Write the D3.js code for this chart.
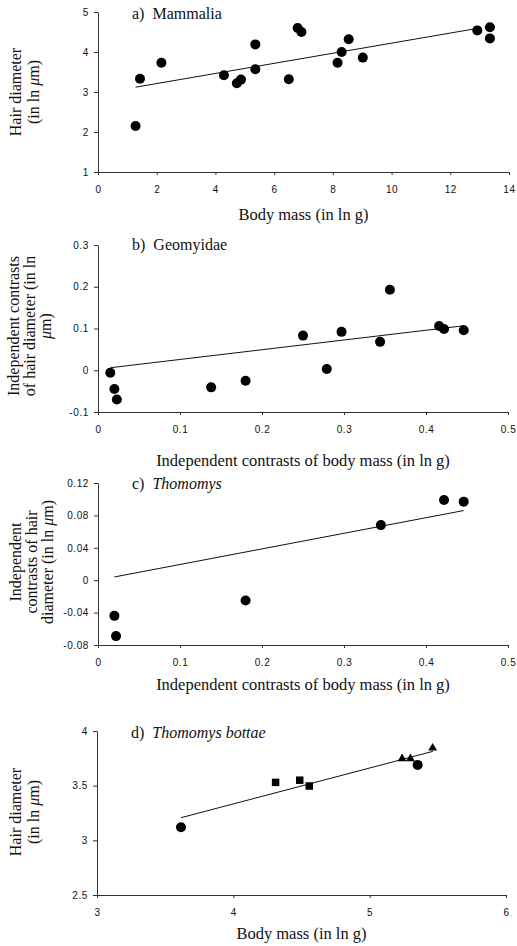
<!DOCTYPE html>
<html>
<head>
<meta charset="utf-8">
<script src="https://cdn.jsdelivr.net/npm/d3@7"></script>
<style>
  body { margin: 0; background: #fff; }
  svg text { font-family: "Liberation Serif", "Times New Roman", serif; fill: #111; white-space: pre; }
  .tick text { font-family: "Liberation Sans", Arial, sans-serif; font-size: 10px; letter-spacing: 0.6px; }
  .domain, .tick line { stroke: #333; }
</style>
</head>
<body>
<svg id="chart" width="517" height="946"></svg>
<script>
// a) Mammalia
var mammaliaMass = [1.28, 1.43, 2.16, 4.29, 4.73, 4.87, 5.36, 5.36, 6.5, 6.8, 6.93, 8.16, 8.3, 8.54, 9.02, 12.92, 13.35, 13.35];
var mammaliaHair = [2.15, 3.33, 3.73, 3.42, 3.22, 3.31, 3.57, 4.19, 3.32, 4.6, 4.5, 3.73, 4.0, 4.32, 3.86, 4.54, 4.62, 4.34];
var mammaliaFitX = [1.28, 12.92];
var mammaliaFitY = [3.12, 4.59];

// b) Geomyidae
var geoMass = [0.015, 0.02, 0.023, 0.138, 0.18, 0.25, 0.279, 0.297, 0.344, 0.356, 0.416, 0.422, 0.446];
var geoHair = [-0.006, -0.045, -0.07, -0.041, -0.025, 0.083, 0.003, 0.092, 0.068, 0.193, 0.106, 0.099, 0.096];
var geoFitX = [0.015, 0.448];
var geoFitY = [0.006, 0.107];

// c) Thomomys
var thoMass = [0.02, 0.022, 0.18, 0.345, 0.422, 0.446];
var thoHair = [-0.044, -0.069, -0.025, 0.068, 0.099, 0.097];
var thoFitX = [0.02, 0.446];
var thoFitY = [0.004, 0.086];

// d) Thomomys bottae (three marker groups)
var botCircleMass = [3.616, 5.352];
var botCircleHair = [3.12, 3.69];
var botSquareMass = [4.31, 4.487, 4.557];
var botSquareHair = [3.53, 3.55, 3.497];
var botTriMass = [5.238, 5.299, 5.462];
var botTriHair = [3.747, 3.747, 3.844];
var botFitX = [3.616, 5.464];
var botFitY = [3.207, 3.814];

// tick values + labels
var ticksXa = [0, 2, 4, 6, 8, 10, 12, 14];
var ticksYa = [1, 2, 3, 4, 5];
var ticksXb = [0, 0.1, 0.2, 0.3, 0.4, 0.5];
var labelsXb = ["0", "0.1", "0.2", "0.3", "0.4", "0.5"];
var ticksYb = [-0.1, 0, 0.1, 0.2, 0.3];
var labelsYb = ["-0.1", "0", "0.1", "0.2", "0.3"];
var ticksYc = [-0.08, -0.04, 0, 0.04, 0.08, 0.12];
var labelsYc = ["-0.08", "-0.04", "0", "0.04", "0.08", "0.12"];
var ticksXd = [3, 4, 5, 6];
var ticksYd = [2.5, 3, 3.5, 4];
var labelsYd = ["2.5", "3", "3.5", "4"];

var svg = d3.select("#chart");

function zip(a, b) { return a.map(function(v, i) { return [v, b[i]]; }); }

var panels = [
  {
    left: 98, right: 509, top: 12, bottom: 172,
    xd: [0, 14], yd: [1, 5],
    xt: ticksXa, xl: ticksXa.map(String), yt: ticksYa, yl: ticksYa.map(String),
    title: [["a)  Mammalia", false]], titleY: 19,
    xlabel: "Body mass (in ln g)", xlabelY: 220,
    ylabel: [[["Hair diameter", false]], [["(in ln ", false], ["\u03bc", true], ["m)", false]]],
    ylabelX: [15, 33], ylabelY: 92,
    circles: zip(mammaliaMass, mammaliaHair),
    fit: zip(mammaliaFitX, mammaliaFitY)
  },
  {
    left: 98, right: 508, top: 245, bottom: 412,
    xd: [0, 0.5], yd: [-0.1, 0.3],
    xt: ticksXb, xl: labelsXb, yt: ticksYb, yl: labelsYb,
    title: [["b)  Geomyidae", false]], titleY: 250,
    xlabel: "Independent contrasts of body mass (in ln g)", xlabelY: 466,
    ylabel: [[["Independent contrasts", false]], [["of hair diameter (in ln", false]], [["\u03bc", true], ["m)", false]]],
    ylabelX: [13, 29, 45], ylabelY: 326,
    circles: zip(geoMass, geoHair),
    fit: zip(geoFitX, geoFitY)
  },
  {
    left: 98, right: 508, top: 483, bottom: 645,
    xd: [0, 0.5], yd: [-0.08, 0.12],
    xt: ticksXb, xl: labelsXb, yt: ticksYc, yl: labelsYc,
    title: [["c)  ", false], ["Thomomys", true]], titleY: 489,
    xlabel: "Independent contrasts of body mass (in ln g)", xlabelY: 690,
    ylabel: [[["Independent", false]], [["contrasts of hair", false]], [["diameter (in ln ", false], ["\u03bc", true], ["m)", false]]],
    ylabelX: [15, 31, 47], ylabelY: 562,
    circles: zip(thoMass, thoHair),
    fit: zip(thoFitX, thoFitY)
  },
  {
    left: 97, right: 506, top: 731, bottom: 895,
    xd: [3, 6], yd: [2.5, 4],
    xt: ticksXd, xl: ticksXd.map(String), yt: ticksYd, yl: labelsYd,
    title: [["d)  ", false], ["Thomomys bottae", true]], titleY: 738,
    xlabel: "Body mass (in ln g)", xlabelY: 939,
    ylabel: [[["Hair diameter", false]], [["(in ln ", false], ["\u03bc", true], ["m)", false]]],
    ylabelX: [15, 33], ylabelY: 812,
    circles: zip(botCircleMass, botCircleHair),
    squares: zip(botSquareMass, botSquareHair),
    triangles: zip(botTriMass, botTriHair),
    fit: zip(botFitX, botFitY)
  }
];

function addSpans(sel, parts) {
  parts.forEach(function(p) {
    sel.append("tspan").text(p[0]).style("font-style", p[1] ? "italic" : null);
  });
}

panels.forEach(function(p) {
  var x = d3.scaleLinear().domain(p.xd).range([p.left, p.right]);
  var y = d3.scaleLinear().domain(p.yd).range([p.bottom, p.top]);
  var g = svg.append("g");

  g.append("g")
    .attr("transform", "translate(0," + p.bottom + ")")
    .call(d3.axisBottom(x).tickValues(p.xt).tickSizeInner(3).tickSizeOuter(0).tickPadding(11)
      .tickFormat(function(d, i) { return p.xl[i]; }));

  g.append("g")
    .attr("transform", "translate(" + p.left + ",0)")
    .call(d3.axisLeft(y).tickValues(p.yt).tickSizeInner(4).tickSizeOuter(0).tickPadding(5)
      .tickFormat(function(d, i) { return p.yl[i]; }));

  // fitted line
  g.append("path")
    .datum(p.fit)
    .attr("fill", "none")
    .attr("stroke", "#111")
    .attr("stroke-width", 1)
    .attr("d", d3.line().x(function(d) { return x(d[0]); }).y(function(d) { return y(d[1]); }));

  g.selectAll("circle.pt")
    .data(p.circles)
    .enter().append("circle")
    .attr("class", "pt")
    .attr("cx", function(d) { return x(d[0]); })
    .attr("cy", function(d) { return y(d[1]); })
    .attr("r", 5)
    .attr("fill", "#000");

  if (p.squares) {
    g.selectAll("path.sq")
      .data(p.squares)
      .enter().append("path")
      .attr("class", "sq")
      .attr("transform", function(d) { return "translate(" + x(d[0]) + "," + y(d[1]) + ")"; })
      .attr("d", d3.symbol().type(d3.symbolSquare).size(56))
      .attr("fill", "#000");
  }
  if (p.triangles) {
    g.selectAll("path.tri")
      .data(p.triangles)
      .enter().append("path")
      .attr("class", "tri")
      .attr("transform", function(d) { return "translate(" + x(d[0]) + "," + y(d[1]) + ")"; })
      .attr("d", d3.symbol().type(d3.symbolTriangle).size(34))
      .attr("fill", "#000");
  }

  // panel title
  var t = g.append("text")
    .attr("x", p.left + 34)
    .attr("y", p.titleY)
    .style("font-size", "16px");
  addSpans(t, p.title);

  // x label
  g.append("text")
    .attr("x", (p.left + p.right) / 2)
    .attr("y", p.xlabelY)
    .attr("text-anchor", "middle")
    .style("font-size", "16.5px")
    .text(p.xlabel);

  // y label lines
  p.ylabel.forEach(function(line, i) {
    var yt = g.append("text")
      .attr("transform", "translate(" + p.ylabelX[i] + "," + p.ylabelY + ") rotate(-90)")
      .attr("text-anchor", "middle")
      .attr("dy", "0.35em")
      .style("font-size", "16px");
    addSpans(yt, line);
  });
});
</script>
</body>
</html>
